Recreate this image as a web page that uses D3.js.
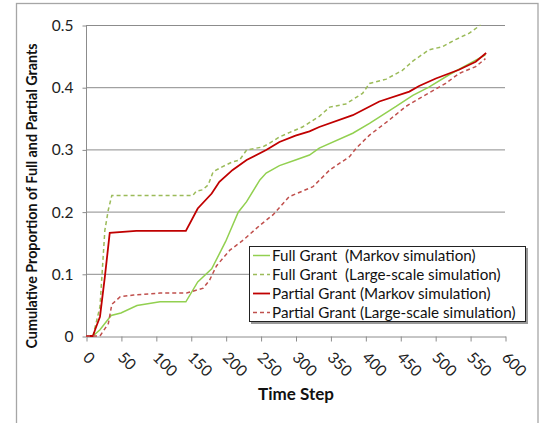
<!DOCTYPE html>
<html><head><meta charset="utf-8">
<script src="https://cdn.jsdelivr.net/npm/d3@7"></script>
<style>body{margin:0;background:#fff}svg{display:block}text{font-family:Lato,"Open Sans",sans-serif}</style>
</head><body>
<script>
// Data (time step, cumulative proportion)
const fullMarkovT = [0,10,20,36,50,73,106,143,160,180,200,218,230,249,258,277,300,320,334,382,406,444,468,491,520,549,572];
const fullMarkovV = [0,0,0.01,0.033,0.037,0.049,0.055,0.055,0.087,0.108,0.152,0.199,0.216,0.251,0.262,0.274,0.283,0.291,0.302,0.326,0.342,0.369,0.387,0.40,0.42,0.438,0.452];
const fullLargeT = [0,10,20,27,32,37,153,158,167,175,182,195,210,220,230,253,263,277,291,310,334,349,372,396,406,430,453,468,491,510,530,549,565];
const fullLargeV = [0,0,0.047,0.17,0.203,0.226,0.226,0.233,0.235,0.243,0.264,0.272,0.28,0.283,0.299,0.304,0.31,0.32,0.327,0.336,0.353,0.368,0.373,0.39,0.406,0.413,0.427,0.442,0.46,0.465,0.477,0.487,0.5];
const partMarkovT = [0,10,13,20,27,34,72,143,160,180,191,210,230,258,277,300,320,334,382,420,463,477,501,534,558,573];
const partMarkovV = [0,0,0.01,0.031,0.095,0.166,0.169,0.169,0.205,0.229,0.248,0.267,0.283,0.299,0.312,0.322,0.329,0.336,0.355,0.377,0.393,0.402,0.414,0.428,0.441,0.455];
const partLargeT = [0,20,32,37,49,68,106,144,168,177,187,206,225,249,268,291,325,349,377,387,406,434,458,482,515,534,558,572];
const partLargeV = [0,0,0.02,0.051,0.063,0.066,0.069,0.069,0.077,0.09,0.113,0.138,0.154,0.178,0.195,0.224,0.24,0.267,0.288,0.302,0.323,0.347,0.369,0.385,0.406,0.422,0.433,0.446];
const xTicks = [0,50,100,150,200,250,300,350,400,450,500,550,600];
const yTicks = [0,0.1,0.2,0.3,0.4,0.5];
const seriesNames = ["Full Grant  (Markov simulation)","Full Grant  (Large-scale simulation)","Partial Grant (Markov simulation)","Partial Grant (Large-scale simulation)"];
const seriesColors = ["#92D050","#9BBB59","#C00000","#C0504D"];

const W=546,H=423;
const svg=d3.select("body").append("svg").attr("width",W).attr("height",H);
svg.append("rect").attr("x",16.5).attr("y",3.5).attr("width",521.5).attr("height",440).attr("fill","#fff").attr("stroke","#a6a6a6").attr("stroke-width",1.3);

const x=d3.scaleLinear().domain([0,600]).range([86,505]);
const y=d3.scaleLinear().domain([0,0.5]).range([336,25]);

// gridlines
svg.append("g").selectAll("line").data(yTicks.slice(1)).join("line")
 .attr("x1",86).attr("x2",505).attr("y1",d=>y(d)+0.5).attr("y2",d=>y(d)+0.5)
 .attr("stroke","#8c8c8c").attr("stroke-width",1);

// y axis
const ya=svg.append("g").attr("transform","translate(86.5,0.5)")
 .call(d3.axisLeft(y).tickValues(yTicks).tickFormat(d=>d===0?"0":d3.format(".1f")(d)).tickSize(4).tickPadding(9));
ya.select(".domain").attr("stroke","#8c8c8c").attr("d","M0,"+y(0.5)+"V"+y(0));
ya.selectAll(".tick line").attr("stroke","#8c8c8c");
ya.selectAll("text").attr("font-size",15.5).attr("fill","#222").style("font-family","Lato");

// x axis
const xa=svg.append("g").attr("transform","translate(0.5,"+(y(0)+0.5)+")")
 .call(d3.axisBottom(x).tickValues(xTicks).tickSize(5).tickSizeOuter(0));
xa.select(".domain").attr("stroke","#8c8c8c");
xa.selectAll(".tick line").attr("stroke","#8c8c8c");
xa.selectAll("text").attr("font-size",15.5).attr("fill","#222").style("font-family","Lato")
 .attr("text-anchor","start").attr("y",0).attr("dy",0)
 .attr("transform","translate(-5,22) rotate(45)");

// lines
const series=[
 {t:fullMarkovT,v:fullMarkovV,dash:null,w:1.5},
 {t:fullLargeT,v:fullLargeV,dash:"4,3",w:1.5},
 {t:partMarkovT,v:partMarkovV,dash:null,w:1.8},
 {t:partLargeT,v:partLargeV,dash:"4,3",w:1.5}
];
const line=d3.line().x(d=>x(d[0])).y(d=>y(d[1]));
series.forEach((s,i)=>{
 svg.append("path").datum(s.t.map((t,j)=>[t,s.v[j]]))
  .attr("d",line).attr("fill","none").attr("stroke",seriesColors[i])
  .attr("stroke-width",s.w).attr("stroke-dasharray",s.dash);
});

// axis titles
svg.append("text").attr("x",296).attr("y",400).attr("text-anchor","middle")
 .attr("font-size",17).attr("font-weight","bold").attr("fill","#111").text("Time Step");
svg.append("text").attr("transform","translate(37,196) rotate(-90)").attr("text-anchor","middle")
 .attr("font-size",14.3).attr("font-weight","bold").attr("fill","#111").text("Cumulative Proportion of Full and Partial Grants");

// legend
const lg=svg.append("g");
lg.append("rect").attr("x",251).attr("y",248).attr("width",277).attr("height",76).attr("fill","#999");
lg.append("rect").attr("x",249.5).attr("y",246.5).attr("width",276).attr("height",75).attr("fill","#fff").attr("stroke","#222").attr("stroke-width",1);
seriesNames.forEach((n,i)=>{
 const yy=255.5+i*19;
 lg.append("line").attr("x1",253).attr("x2",270).attr("y1",yy).attr("y2",yy)
  .attr("stroke",seriesColors[i]).attr("stroke-width",i===2?1.8:1.5).attr("stroke-dasharray",series[i].dash);
 lg.append("text").attr("x",272).attr("y",yy).attr("dy","0.35em").attr("font-size",15.2)
  .attr("fill","#111").style("white-space","pre").text(n);
});
</script>
</body></html>
